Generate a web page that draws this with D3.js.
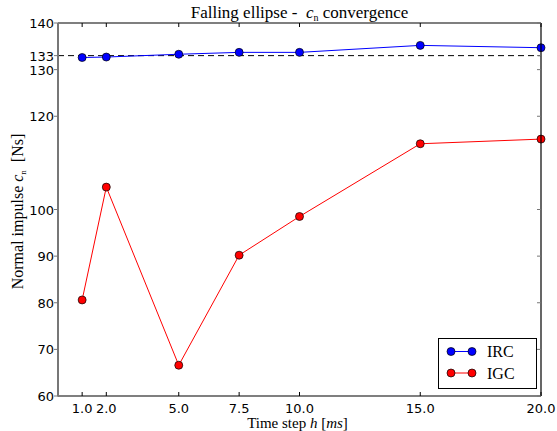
<!DOCTYPE html>
<html>
<head>
<meta charset="utf-8">
<script src="https://cdn.jsdelivr.net/npm/d3@7"></script>
<style>
  body { margin: 0; background: #fff; }
  svg { display: block; }
  .tick-label { font-family: "DejaVu Sans", sans-serif; font-size: 13px; fill: #000; }
  .serif { font-family: "Liberation Serif", "Times New Roman", serif; fill: #000; }
</style>
</head>
<body>
<svg id="chart" width="557" height="431"></svg>
<script>
const STEPS = [1.0, 2.0, 5.0, 7.5, 10.0, 15.0, 20.0];
const IRC = [132.6, 132.7, 133.3, 133.7, 133.7, 135.2, 134.7];
const IGC = [80.6, 104.8, 66.6, 90.2, 98.5, 114.1, 115.1];
const REFERENCE = 133;
const Y_TICKS = [60, 70, 80, 90, 100, 120, 130, 133, 140];
const X_TICKS = [1.0, 2.0, 5.0, 7.5, 10.0, 15.0, 20.0];

const svg = d3.select("#chart");
const plotL = 58, plotR = 541, plotT = 23, plotB = 396;

const x = d3.scaleLinear().domain([0, 20]).range([plotL, plotR]);
const y = d3.scaleLinear().domain([60, 140]).range([plotB, plotT]);

// reference line
svg.append("line")
  .attr("x1", plotL).attr("x2", plotR)
  .attr("y1", y(REFERENCE)).attr("y2", y(REFERENCE))
  .attr("stroke", "#000").attr("stroke-width", 1)
  .attr("stroke-dasharray", "6,4");

// series
const series = [
  { name: "IRC", values: IRC, color: "#0000ff" },
  { name: "IGC", values: IGC, color: "#ff0000" }
];

const line = d3.line().x(d => x(d[0])).y(d => y(d[1]));

series.forEach(s => {
  const pts = STEPS.map((h, i) => [h, s.values[i]]);
  svg.append("path")
    .datum(pts)
    .attr("d", line)
    .attr("fill", "none")
    .attr("stroke", s.color)
    .attr("stroke-width", 1);
  svg.append("g").selectAll("circle").data(pts).enter().append("circle")
    .attr("cx", d => x(d[0]))
    .attr("cy", d => y(d[1]))
    .attr("r", 4)
    .attr("fill", s.color)
    .attr("stroke", "#000")
    .attr("stroke-width", 0.7);
});

// spines
svg.append("line").attr("x1", plotL).attr("x2", plotR).attr("y1", plotT).attr("y2", plotT)
  .attr("stroke", "#000").attr("stroke-width", 1.2);
svg.append("line").attr("x1", plotL).attr("x2", plotR).attr("y1", plotB).attr("y2", plotB)
  .attr("stroke", "#000").attr("stroke-width", 1.2);
svg.append("line").attr("x1", plotR).attr("x2", plotR).attr("y1", plotT).attr("y2", plotB)
  .attr("stroke", "#000").attr("stroke-width", 1.2);
svg.append("line").attr("x1", plotL).attr("x2", plotL).attr("y1", plotT).attr("y2", plotB + 0.6)
  .attr("stroke", "#777").attr("stroke-width", 2);

// x ticks (inward, top and bottom)
const xt = svg.append("g");
X_TICKS.forEach(t => {
  xt.append("line").attr("x1", x(t)).attr("x2", x(t)).attr("y1", plotB).attr("y2", plotB - 4)
    .attr("stroke", "#000").attr("stroke-width", 1);
  xt.append("line").attr("x1", x(t)).attr("x2", x(t)).attr("y1", plotT).attr("y2", plotT + 4)
    .attr("stroke", "#000").attr("stroke-width", 1);
  xt.append("text").attr("class", "tick-label")
    .attr("x", x(t)).attr("y", plotB + 17)
    .attr("text-anchor", "middle")
    .text(t.toFixed(1));
});

// y ticks (left outward gray, right inward gray)
const yt = svg.append("g");
Y_TICKS.forEach(t => {
  yt.append("line").attr("x1", plotL - 4).attr("x2", plotL).attr("y1", y(t)).attr("y2", y(t))
    .attr("stroke", "#777").attr("stroke-width", 1);
  yt.append("line").attr("x1", plotR - 4).attr("x2", plotR).attr("y1", y(t)).attr("y2", y(t))
    .attr("stroke", "#777").attr("stroke-width", 1);
  yt.append("text").attr("class", "tick-label")
    .attr("x", plotL - 4).attr("y", y(t) + 5)
    .attr("text-anchor", "end")
    .text(t);
});

// title
const title = svg.append("text").attr("class", "serif")
  .attr("x", (plotL + plotR) / 2).attr("y", 18)
  .attr("text-anchor", "middle")
  .style("font-size", "17px");
title.append("tspan").text("Falling ellipse -\u00a0 ");
title.append("tspan").style("font-style", "italic").text("c");
title.append("tspan").style("font-size", "10px").attr("dy", 3).text("n");
title.append("tspan").attr("dy", -3).text(" convergence");

// x label
const xl = svg.append("text").attr("class", "serif")
  .attr("x", (plotL + plotR) / 2 - 2).attr("y", 428)
  .attr("text-anchor", "middle")
  .style("font-size", "15px");
xl.append("tspan").text("Time step ");
xl.append("tspan").style("font-style", "italic").text("h");
xl.append("tspan").text(" [");
xl.append("tspan").style("font-style", "italic").text("ms");
xl.append("tspan").text("]");

// y label
const yl = svg.append("text").attr("class", "serif")
  .attr("transform", `translate(23,${(plotT + plotB) / 2 + 2}) rotate(-90)`)
  .attr("text-anchor", "middle")
  .style("font-size", "16px");
yl.append("tspan").text("Normal impulse ");
yl.append("tspan").style("font-style", "italic").text("c");
yl.append("tspan").style("font-size", "9px").attr("dy", 3).text("n");
yl.append("tspan").attr("dy", -3).text("\u00a0\u00a0[Ns]");

// legend
const lg = svg.append("g");
lg.append("rect").attr("x", 438.5).attr("y", 338.5).attr("width", 98).attr("height", 50)
  .attr("fill", "#fff").attr("stroke", "#000").attr("stroke-width", 1);
series.forEach((s, i) => {
  const ly = 351.5 + i * 21.5;
  lg.append("line").attr("x1", 451).attr("x2", 472).attr("y1", ly).attr("y2", ly)
    .attr("stroke", s.color).attr("stroke-width", 1);
  [451, 472].forEach(cx => {
    lg.append("circle").attr("cx", cx).attr("cy", ly).attr("r", 4)
      .attr("fill", s.color).attr("stroke", "#000").attr("stroke-width", 0.7);
  });
  lg.append("text").attr("class", "serif")
    .attr("x", 487).attr("y", ly + 5.5)
    .style("font-size", "16px")
    .text(s.name);
});
</script>
</body>
</html>
